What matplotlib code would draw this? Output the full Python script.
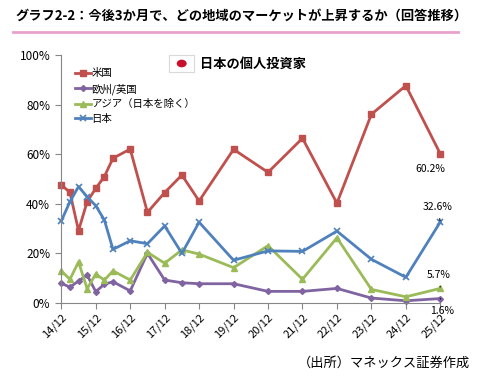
import numpy as np
import pandas as pd
import matplotlib
matplotlib.use("Agg")
import matplotlib.pyplot as plt
from matplotlib.patches import Rectangle, Circle
from matplotlib.lines import Line2D

plt.rcParams['font.family'] = ['Noto Sans CJK JP', 'DejaVu Sans']

# ------------------------------------------------------------
# data
# ------------------------------------------------------------
dates = ["2014-12", "2015-03", "2015-06", "2015-09", "2015-12", "2016-03",
         "2016-06", "2016-12", "2017-06", "2017-12", "2018-06", "2018-12",
         "2019-12", "2020-12", "2021-12", "2022-12", "2023-12", "2024-12",
         "2025-12"]

us = [47.6, 44.6, 29.1, 40.8, 46.2, 51.0, 58.4, 62.1, 36.5, 44.5, 51.6, 41.1,
      62.0, 52.7, 66.5, 40.2, 76.2, 87.8, 60.2]
europe = [7.8, 6.2, 8.7, 11.1, 4.4, 7.4, 8.4, 4.7, 19.9, 9.1, 8.0, 7.6,
          7.6, 4.5, 4.5, 5.7, 1.8, 0.7, 1.6]
asia = [12.8, 9.4, 16.4, 5.6, 11.5, 9.1, 12.8, 9.1, 20.3, 15.9, 21.3, 19.6,
        14.1, 23.0, 9.4, 26.2, 5.3, 2.3, 5.7]
japan = [33.0, 40.8, 46.9, 42.8, 39.2, 33.4, 21.5, 25.0, 23.8, 31.0, 19.9, 32.5,
         17.1, 20.9, 20.7, 28.9, 17.5, 10.2, 32.6]

series_names = ["米国", "欧州/英国", "アジア（日本を除く）", "日本"]
tick_labels = ["14/12", "15/12", "16/12", "17/12", "18/12", "19/12", "20/12",
               "21/12", "22/12", "23/12", "24/12", "25/12"]

# months since 2014-12
per = pd.PeriodIndex(dates, freq="M")
x = np.array([(p - per[0]).n for p in per])

W, H = 494, 378
fig = plt.figure(figsize=(W / 100, H / 100), dpi=100)


def fx(px):
    return px / W


def fy(py):
    return 1 - py / H


ax = fig.add_axes([fx(61.3), fy(302.5), fx(440.3) - fx(61.3), fy(55.5) - fy(302.5)])

styles = [
    dict(color="#C0504D", marker="s", markersize=4.5),
    dict(color="#8064A2", marker="D", markersize=3),
    dict(color="#9BBB59", marker="^", markersize=4.5),
    dict(color="#4F81BD", marker="x", markersize=5, markeredgewidth=1.2),
]
for vals, name, st in zip([us, europe, asia, japan], series_names, styles):
    ax.plot(x, vals, lw=2, label=name, clip_on=False, **st)

ax.set_xlim(0, 132)
ax.set_ylim(0, 100)
ax.set_xticks(np.arange(0, 133, 12))
ax.set_xticklabels(tick_labels, rotation=45, ha="right", rotation_mode="anchor",
                   fontsize=8)
ax.set_yticks([0, 20, 40, 60, 80, 100])
ax.set_yticklabels(["0%", "20%", "40%", "60%", "80%", "100%"], fontsize=8.5)
for s in ["top", "right"]:
    ax.spines[s].set_visible(False)
for s in ["left", "bottom"]:
    ax.spines[s].set_color("#868686")
ax.tick_params(axis="both", colors="#868686", labelcolor="black", length=4)
ax.tick_params(axis="y", pad=4)
ax.tick_params(axis="x", pad=3)

leg = ax.legend(loc="upper left", bbox_to_anchor=(0.025, 0.965), frameon=False,
                fontsize=7.5, handlelength=1.5, handletextpad=0.1,
                labelspacing=0.45, borderaxespad=0)

# end-point labels
ax.annotate("60.2%", (x[-1], us[-1]), xytext=(-7, -11), textcoords="offset points",
            ha="center", va="center", fontsize=7.5)
ax.annotate("32.6%", (x[-1], japan[-1]), xytext=(-2, 11), textcoords="offset points",
            ha="center", va="center", fontsize=7.5,
            arrowprops=dict(arrowstyle="-", color="black", lw=0.8, shrinkA=3, shrinkB=1))
ax.annotate("5.7%", (x[-1], asia[-1]), xytext=(-1, 10), textcoords="offset points",
            ha="center", va="center", fontsize=7.5,
            arrowprops=dict(arrowstyle="-", color="black", lw=0.8, shrinkA=3, shrinkB=1))
ax.annotate("1.6%", (x[-1], europe[-1]), xytext=(1, -9), textcoords="offset points",
            ha="center", va="center", fontsize=7.5,
            arrowprops=dict(arrowstyle="-", color="black", lw=0.8, shrinkA=3, shrinkB=1))

# title and pink rule
fig.text(fx(15), fy(16), "グラフ2-2：今後3か月で、どの地域のマーケットが上昇するか（回答推移）",
         fontsize=9.5, fontweight="bold", ha="left", va="center")
fig.add_artist(Line2D([fx(13), fx(458)], [fy(31.5), fy(31.5)], color="#E8A3CC", lw=2))

# flag box and investor label
fig.add_artist(Rectangle((fx(169), fy(72.3)), fx(194.3) - fx(169), fy(54.7) - fy(72.3),
                         facecolor="white", edgecolor="#D9D9D9", lw=0.8))
fig.add_artist(Circle((fx(181.7), fy(63.5)), 5 / W, facecolor="#C8102E", edgecolor="none",
                      transform=fig.transFigure))
fig.text(fx(200), fy(63.5), "日本の個人投資家", fontsize=9.5, fontweight="bold",
         ha="left", va="center")

# source
fig.text(fx(470), fy(363), "（出所）マネックス証券作成", fontsize=9.5, ha="right", va="center")

fig.savefig("out.png", dpi=100)
